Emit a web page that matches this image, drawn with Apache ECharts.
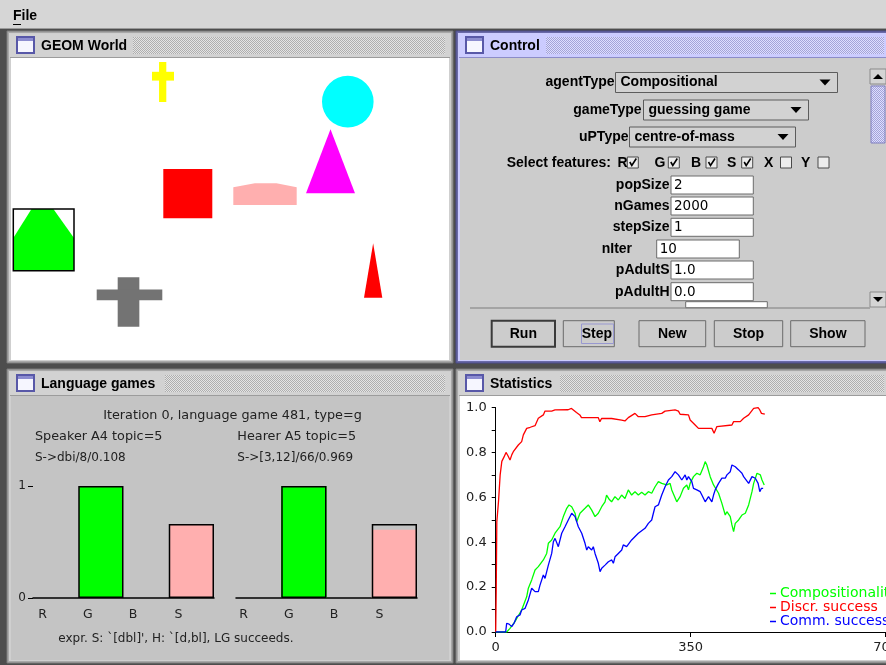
<!DOCTYPE html>
<html><head><meta charset="utf-8">
<script src="https://cdn.jsdelivr.net/npm/echarts@6/dist/echarts.min.js"></script>
<style>html,body{margin:0;padding:0;background:#4d4d4d;}#c{width:886px;height:665px;}</style>
</head><body><div id="c"></div>
<script>
// ================= DATA =================
// Statistics window
const statXTicks = [0, 350, 700];
const statYTicks = [0, 0.2, 0.4, 0.6, 0.8, 1.0];
const seriesNames = ['Compositionality', 'Discr. success', 'Comm. success'];
const compositionality = [[0,0],[19.7,0],[25.7,0.016],[34.6,0.046],[40,0.07],[46.6,0.098],[55.6,0.157],[58.6,0.195],[64.6,0.232],[70.6,0.276],[76.5,0.291],[85.5,0.321],[91.5,0.35],[94.5,0.395],[100.5,0.41],[106.5,0.44],[115.4,0.469],[121.4,0.514],[127.5,0.551],[131.6,0.566],[136.4,0.558],[142.4,0.529],[145.4,0.491],[151.3,0.529],[160.3,0.551],[166.2,0.566],[172.3,0.543],[178.3,0.514],[184.2,0.529],[190.3,0.558],[196.2,0.58],[199,0.61],[204,0.59],[208,0.58],[214,0.603],[220,0.588],[226,0.61],[232,0.595],[238,0.633],[244,0.61],[250,0.625],[256,0.61],[262,0.622],[268,0.61],[274,0.625],[280,0.618],[286,0.647],[292,0.67],[298,0.662],[307,0.655],[313,0.662],[316,0.633],[325,0.58],[331,0.603],[337,0.64],[343,0.655],[346,0.633],[349,0.662],[355,0.692],[361,0.707],[367,0.7],[373,0.736],[376,0.759],[379,0.744],[385,0.692],[391,0.655],[400,0.618],[406,0.573],[412,0.521],[415,0.536],[421,0.514],[424,0.477],[427,0.447],[430,0.484],[436,0.499],[442,0.521],[448,0.529],[454,0.566],[460,0.625],[463,0.662],[469,0.707],[475,0.7],[478,0.677],[482,0.655]];
const discrSuccess = [[0,0],[1,0.2],[2,0.49],[3,0.52],[5,0.58],[8,0.7],[11,0.76],[15,0.78],[18.5,0.8],[22,0.785],[25.7,0.766],[29,0.79],[31.6,0.803],[35,0.81],[40.6,0.833],[46.6,0.848],[49.6,0.878],[55.6,0.907],[62,0.912],[70.6,0.919],[76.5,0.952],[85.5,0.967],[88.5,0.984],[100.5,0.984],[106.5,0.989],[130,0.99],[136,0.996],[139,0.989],[145,0.978],[151,0.967],[154,0.955],[184,0.955],[187,0.937],[190,0.951],[208,0.951],[226,0.944],[232,0.94],[238,0.955],[250,0.974],[256,0.959],[268,0.959],[280,0.967],[298,0.974],[304,0.984],[322,0.989],[328,0.984],[331,0.97],[346,0.967],[349,0.944],[358,0.922],[364,0.907],[388,0.907],[392,0.885],[397,0.915],[424,0.922],[427,0.937],[439,0.937],[445,0.952],[454,0.967],[463,0.996],[471,0.999],[474,0.989],[477,0.974],[483,0.97]];
const commSuccess = [[0,0],[17.9,0],[19.7,0.039],[24,0.035],[28.7,0.024],[33,0.04],[37.7,0.068],[43.6,0.076],[46.6,0.098],[52.6,0.105],[58.6,0.143],[64.6,0.195],[70.6,0.18],[76.5,0.18],[79.5,0.209],[85.5,0.254],[88.5,0.239],[94.5,0.298],[100.5,0.35],[103.5,0.402],[106.5,0.417],[112.4,0.38],[118.5,0.44],[124.4,0.469],[130.3,0.499],[136.4,0.529],[139.3,0.536],[142.4,0.514],[148.3,0.469],[154.4,0.44],[160.3,0.395],[163.4,0.365],[166.2,0.38],[172.3,0.365],[175.2,0.38],[178.3,0.35],[184.2,0.306],[187.3,0.269],[190.3,0.284],[196.2,0.298],[202.2,0.313],[208.3,0.321],[211.2,0.306],[214.2,0.335],[220.1,0.35],[226.2,0.365],[229,0.388],[235,0.38],[244,0.41],[256,0.44],[268,0.462],[274,0.484],[280,0.499],[283,0.529],[286,0.558],[292,0.566],[298,0.61],[304,0.647],[310,0.677],[316,0.692],[322,0.714],[325,0.722],[328,0.7],[334,0.677],[340,0.7],[343,0.677],[346,0.692],[352,0.67],[355,0.64],[361,0.633],[367,0.625],[370,0.61],[376,0.58],[379,0.588],[382,0.603],[385,0.595],[388,0.58],[391,0.61],[394,0.633],[400,0.662],[406,0.685],[412,0.685],[415,0.7],[421,0.714],[424,0.744],[430,0.736],[436,0.722],[442,0.707],[445,0.692],[454,0.662],[460,0.692],[466,0.685],[469,0.692],[471,0.662],[474,0.625],[477,0.64],[480,0.64]];

// Language games window
const featureCats = ['R', 'G', 'B', 'S'];
const speakerValues = [0, 1, 0, 0.66];
const hearerPrototype = [0, 1, 0, 0.66];
const hearerObserved = [0, 1, 0, 0.61];
const barYTicks = [0, 1];
const gameHeader = 'Iteration 0, language game 481, type=g';
const speakerInfo = ['Speaker A4 topic=5', 'S->dbi/8/0.108'];
const hearerInfo = ['Hearer A5 topic=5', 'S->[3,12]/66/0.969'];
const gameResult = "expr. S: `[dbl]', H: `[d,bl], LG succeeds.";

// GEOM World objects (world units)
const worldShapes = ['cross', 'circle', 'triangle', 'square', 'arch', 'house', 'cross', 'triangle'];
const worldColors = ['#ffff00', '#00ffff', '#ff00ff', '#ff0000', '#ffafaf', '#00ff00', '#737373', '#ff0000'];
const worldX = [140, 310, 294, 151.3, 221.3, 1.3, 84.7, 352];
const worldY = [3, 17, 70.3, 110, 124.3, 150, 218.3, 184.3];
const worldW = [22, 51.6, 49, 49, 63.4, 60.7, 65.6, 18.3];
const worldH = [40, 51.3, 64, 49.3, 21.7, 61.7, 49.4, 54.4];
const topicIndex = 5;

// Control window
const paramLabels = ['popSize', 'nGames', 'stepSize', 'nIter', 'pAdultS', 'pAdultH'];
const paramValues = ['2', '2000', '1', '10', '1.0', '0.0'];
const featureFlags = [['R', true], ['G', true], ['B', true], ['S', true], ['X', false], ['Y', false]];
const buttonLabels = ['Run', 'Step', 'New', 'Stop', 'Show'];

// ================= BUILD =================
const chart = echarts.init(document.getElementById('c'), null, {renderer: 'canvas'});
const BOLD = '"Liberation Sans", Arial, sans-serif';
const REG = '"DejaVu Sans", sans-serif';
const LBL = 'bold 14px ' + BOLD;

function pattern(a, b) {
  const c = document.createElement('canvas'); c.width = 2; c.height = 2;
  const g = c.getContext('2d');
  g.fillStyle = a; g.fillRect(0, 0, 2, 2);
  g.fillStyle = b; g.fillRect(0, 0, 1, 1); g.fillRect(1, 1, 1, 1);
  return {image: c, repeat: 'repeat'};
}
const grayTex = pattern('#e4e4e4', '#aeaeae');
const blueTex = pattern('#dedeff', '#a4a4d8');

const G = [];
function rect(x, y, w, h, fill, stroke, lw, z) {
  G.push({type: 'rect', silent: true, z: z === undefined ? -10 : z, shape: {x: x, y: y, width: w, height: h},
    style: {fill: fill || 'none', stroke: stroke || null, lineWidth: lw || 1}});
}
function line(x1, y1, x2, y2, stroke, lw, z) {
  G.push({type: 'line', silent: true, z: z === undefined ? -9 : z, shape: {x1: x1, y1: y1, x2: x2, y2: y2},
    style: {stroke: stroke, lineWidth: lw || 1}});
}
function poly(points, fill, z) {
  G.push({type: 'polygon', silent: true, z: z === undefined ? -8 : z, shape: {points: points}, style: {fill: fill}});
}
function polyline(points, stroke, lw) {
  G.push({type: 'polyline', silent: true, z: -7, shape: {points: points}, style: {stroke: stroke, lineWidth: lw, fill: null}});
}
function text(x, y, t, font, align, color) {
  G.push({type: 'text', silent: true, z: 50, x: x, y: y,
    style: {text: t, font: font, fill: color || '#000', align: align || 'left', verticalAlign: 'middle',
      textAlign: align || 'left', textVerticalAlign: 'middle'}});
}
function icon(x, y) {
  rect(x, y, 17, 16, '#f6f6ff', '#5858a8', 2, -6);
  rect(x, y, 17, 4, '#8c8cd0', null, 1, -5);
  rect(x, y, 17, 16, 'none', '#5858a8', 2, -4);
}

// Menu bar
rect(0, 0, 886, 28, '#d6d6d6');
line(0, 28.5, 886, 28.5, '#9a9a9a', 1);
text(13, 16, 'File', 'bold 14px ' + BOLD);
line(13, 24.5, 21, 24.5, '#000', 1);

// Frames
function frame(x, y, w, h, title, active, contentFill, texX) {
  rect(x, y, w, h, active ? '#6a6aa8' : '#a8a8a8', active ? '#4a4a88' : '#7a7a7a', 1);
  rect(x + 2, y + 2, w - 4, h - 4, active ? '#ccccff' : '#cfcfcf', null);
  rect(x + 3, y + 3, w - 6, 23, active ? '#ccccff' : '#d2d2d2', null);
  rect(texX, y + 6, x + w - 8 - texX, 17, active ? blueTex : grayTex, null, 1, -9);
  line(x + 3, y + 26.5, x + w - 3, y + 26.5, active ? '#8c8cc8' : '#9c9c9c', 1);
  rect(x + 4, y + 27, w - 8, h - 30, contentFill, null, 1, -9);
  icon(x + 10, y + 6);
  text(x + 34, y + 15, title, 'bold 14px ' + BOLD);
}
frame(7, 31, 446, 332, 'GEOM World', false, '#ffffff', 133);
frame(456, 31, 436, 332, 'Control', true, '#cccccc', 546);
frame(7, 369, 446, 294, 'Language games', false, '#c4c4c4', 165);
frame(456, 369, 436, 294, 'Statistics', false, '#ffffff', 560);

// Control internals
rect(470, 69, 400, 239, '#cccccc', '#7c7c7c', 1);
rect(870, 69, 16, 239, '#cccccc', '#7c7c7c', 1);
rect(870, 69, 16, 15, '#d4d4d4', '#8a8a8a', 1, -9);
poly([[873, 79], [883, 79], [878, 74]], '#000');
rect(871, 86, 14, 57, blueTex, '#8080c0', 1, -8);
rect(870, 292, 16, 15, '#d4d4d4', '#8a8a8a', 1, -9);
poly([[873, 297], [883, 297], [878, 302]], '#000');

function combo(labelRight, cy, x0, x1, label, value) {
  text(labelRight, cy, label, LBL, 'right');
  rect(x0, cy - 10, x1 - x0, 20, '#d2d2d2', '#5c5c5c', 1, -8);
  line(x0 + 1.5, cy - 8.5, x1 - 2, cy - 8.5, '#f2f2f2', 1);
  text(x0 + 5, cy, value, LBL);
  poly([[x1 - 18, cy - 3], [x1 - 7, cy - 3], [x1 - 12.5, cy + 3]], '#000', -6);
}
combo(614.5, 82.5, 615.5, 837.5, 'agentType', 'Compositional');
combo(641.5, 110, 643.5, 808.5, 'gameType', 'guessing game');
combo(628.5, 137, 629.5, 795.5, 'uPType', 'centre-of-mass');

text(506.7, 162.7, 'Select features:', LBL);
const flagLetterX = [617.5, 654.5, 691, 727, 764, 801];
const flagBoxX = [627.3, 668.3, 706, 741.7, 780.5, 818];
featureFlags.forEach(function (f, i) {
  text(flagLetterX[i], 162.7, f[0], LBL);
  rect(flagBoxX[i], 157, 11, 11, '#ececec', '#4a4a4a', 1, -8);
  if (f[1]) polyline([[flagBoxX[i] + 2.5, 162], [flagBoxX[i] + 4.5, 165.5], [flagBoxX[i] + 9, 158.5]], '#000', 1.6);
});

const fieldY = [185, 206, 227.3, 249, 270, 291.7];
paramLabels.forEach(function (lab, i) {
  const cy = fieldY[i];
  let fx0 = 671, fx1 = 753.3;
  if (lab === 'nIter') { fx0 = 656.7; fx1 = 739.3; text(601.7, cy, lab, LBL); }
  else text(669.5, cy, lab, LBL, 'right');
  rect(fx0, cy - 9, fx1 - fx0, 18, '#ffffff', '#6c6c6c', 1, -8);
  text(fx0 + 3, cy + 0.5, paramValues[i], '13.5px ' + REG);
});
rect(685.7, 301.7, 81.6, 6, '#ffffff', '#6c6c6c', 1, -8);
line(470, 308, 870, 308, '#7c7c7c', 1);

const btnX = [[491.7, 555], [563.3, 614.3], [639, 705.7], [714.3, 782.7], [790.7, 865]];
buttonLabels.forEach(function (b, i) {
  const x0 = btnX[i][0], x1 = btnX[i][1];
  rect(x0, 320.7, x1 - x0, 26, '#cccccc', i === 0 ? '#3a3a3a' : '#6a6a6a', i === 0 ? 2 : 1, -8);
  line(x0 + 1.5, 322.5, x1 - 1.5, 322.5, '#f4f4f4', 1);
  line(x0 + 1.5, 322.5, x0 + 1.5, 345, '#f4f4f4', 1);
  text((x0 + x1) / 2 + (i === 1 ? 8 : 0), 334, b, LBL, 'center');
});
rect(581.5, 324, 32, 19.5, 'none', '#9898d0', 1, -6);

// Language games texts
text(232.5, 415.7, gameHeader, '12.8px ' + REG, 'center', '#222');
text(35, 436.7, speakerInfo[0], '12.8px ' + REG, 'left', '#222');
text(237.3, 436.7, hearerInfo[0], '12.8px ' + REG, 'left', '#222');
text(35, 458.3, speakerInfo[1], '12px ' + REG, 'left', '#222');
text(237.3, 458.3, hearerInfo[1], '12px ' + REG, 'left', '#222');
text(58.3, 639.3, gameResult, '12px ' + REG, 'left', '#222');

// ================= OPTION =================
const featureColor = {R: '#ff0000', G: '#00ff00', B: '#0000ff', S: '#ffafaf'};
const lineColors = ['#00ff00', '#ff0000', '#0000ff'];
const worldData = worldX.map(function (x, i) { return [x, worldY[i], worldW[i], worldH[i]]; });

function renderWorld(params, api) {
  const i = params.dataIndex;
  const p0 = api.coord([api.value(0), api.value(1)]);
  const p1 = api.coord([api.value(0) + api.value(2), api.value(1) + api.value(3)]);
  const x = p0[0], y = p0[1], w = p1[0] - p0[0], h = p1[1] - p0[1];
  const st = {fill: worldColors[i]};
  const kind = worldShapes[i];
  if (kind === 'circle') return {type: 'circle', shape: {cx: x + w / 2, cy: y + h / 2, r: w / 2}, style: st};
  if (kind === 'square') return {type: 'rect', shape: {x: x, y: y, width: w, height: h}, style: st};
  if (kind === 'triangle') return {type: 'polygon', shape: {points: [[x + w / 2, y], [x + w, y + h], [x, y + h]]}, style: st};
  if (kind === 'arch') return {type: 'polygon', shape: {points: [[x, y + h * 0.18], [x + w * 0.34, y], [x + w * 0.68, y], [x + w, y + h * 0.18], [x + w, y + h], [x, y + h]]}, style: st};
  if (kind === 'cross') return {type: 'group', children: [
    {type: 'rect', shape: {x: x + w * 0.32, y: y, width: w * 0.33, height: h}, style: st},
    {type: 'rect', shape: {x: x, y: y + h * 0.245, width: w, height: h * 0.22}, style: st}]};
  if (kind === 'house') {
    const children = [{type: 'polygon', shape: {points: [[x + w * 0.3, y], [x + w * 0.66, y], [x + w, y + h * 0.47], [x + w, y + h], [x, y + h], [x, y + h * 0.47]]}, style: st}];
    if (i === topicIndex) children.push({type: 'rect', shape: {x: x, y: y, width: w, height: h}, style: {fill: 'none', stroke: '#000', lineWidth: 1.5}});
    return {type: 'group', children: children};
  }
}

const gridBase = {outerBoundsMode: 'none', containLabel: false};
const catAxis = function (gi, pad) {
  return {type: 'category', gridIndex: gi, data: featureCats, boundaryGap: true,
    axisLine: {show: true, lineStyle: {color: '#000', width: 1.5}}, axisTick: {show: false},
    axisLabel: {show: true, color: '#222', fontSize: 12.5, fontFamily: REG, margin: 10, padding: [0, pad, 0, 0]},
    splitLine: {show: false}};
};

const option = {
  backgroundColor: '#4d4d4d',
  animation: false,
  graphic: {elements: G},
  grid: [
    Object.assign({left: 12, top: 59, width: 438, height: 302}, gridBase),
    Object.assign({left: 33, top: 486, width: 181, height: 112}, gridBase),
    Object.assign({left: 236, top: 486, width: 181, height: 112}, gridBase),
    Object.assign({left: 495.7, top: 407.5, width: 390, height: 224.5}, gridBase)
  ],
  xAxis: [
    {type: 'value', gridIndex: 0, min: 0, max: 438, show: false},
    catAxis(1, 26),
    catAxis(2, 30),
    {type: 'value', gridIndex: 3, min: statXTicks[0], max: statXTicks[2], interval: statXTicks[1],
      axisLine: {show: true, onZero: false, lineStyle: {color: '#000', width: 1}},
      axisTick: {show: true, length: 5, lineStyle: {color: '#000'}},
      axisLabel: {color: '#222', fontSize: 13, fontFamily: REG, margin: 9, showMaxLabel: true},
      splitLine: {show: false}}
  ],
  yAxis: [
    {type: 'value', gridIndex: 0, min: 0, max: 302, inverse: true, show: false},
    {type: 'value', gridIndex: 1, min: 0, max: 1, interval: 1,
      axisLine: {show: false}, axisTick: {show: true, length: 5, lineStyle: {color: '#000', width: 1}},
      axisLabel: {color: '#222', fontSize: 12, fontFamily: REG, margin: 7,
        formatter: function (v) { return barYTicks.indexOf(v) >= 0 ? String(v) : ''; }},
      splitLine: {show: false}},
    {type: 'value', gridIndex: 2, min: 0, max: 1, show: false},
    {type: 'value', gridIndex: 3, min: statYTicks[0], max: statYTicks[5], interval: 0.2,
      axisLine: {show: true, lineStyle: {color: '#000', width: 1}},
      axisTick: {show: true, length: 4, lineStyle: {color: '#000'}},
      minorTick: {show: true, splitNumber: 2, length: 4, lineStyle: {color: '#000'}},
      axisLabel: {color: '#222', fontSize: 13, fontFamily: REG, margin: 9,
        formatter: function (v) { return v.toFixed(1); }},
      splitLine: {show: false}, minorSplitLine: {show: false}}
  ],
  legend: {
    show: true, orient: 'vertical', left: 770, top: 586.5, padding: 0, itemGap: 0,
    icon: 'rect', itemWidth: 6, itemHeight: 1.5, selectedMode: false,
    textStyle: {fontSize: 14, fontFamily: REG, lineHeight: 11.7, padding: [0, 0, 0, -1]},
    data: seriesNames.map(function (n, i) { return {name: n, textStyle: {color: lineColors[i]}}; })
  },
  series: [
    {type: 'custom', xAxisIndex: 0, yAxisIndex: 0, renderItem: renderWorld, data: worldData, silent: true},
    {type: 'bar', xAxisIndex: 1, yAxisIndex: 1, barWidth: '100%', silent: true,
      data: speakerValues.map(function (v, i) { return {value: v, itemStyle: {color: featureColor[featureCats[i]], borderColor: '#000', borderWidth: v > 0 ? 1.5 : 0}}; })},
    {type: 'bar', xAxisIndex: 2, yAxisIndex: 2, barWidth: '100%', barGap: '-100%', silent: true,
      data: hearerObserved.map(function (v, i) { return {value: v, itemStyle: {color: featureColor[featureCats[i]], borderWidth: 0}}; })},
    {type: 'bar', xAxisIndex: 2, yAxisIndex: 2, barWidth: '100%', barGap: '-100%', silent: true,
      data: hearerPrototype.map(function (v) { return {value: v, itemStyle: {color: 'rgba(0,0,0,0)', borderColor: '#000', borderWidth: v > 0 ? 1.5 : 0}}; })},
    {name: seriesNames[0], type: 'line', xAxisIndex: 3, yAxisIndex: 3, data: compositionality, showSymbol: false, symbol: 'none',
      lineStyle: {color: lineColors[0], width: 1.3}, itemStyle: {color: lineColors[0]}, silent: true},
    {name: seriesNames[1], type: 'line', xAxisIndex: 3, yAxisIndex: 3, data: discrSuccess, showSymbol: false, symbol: 'none',
      lineStyle: {color: lineColors[1], width: 1.3}, itemStyle: {color: lineColors[1]}, silent: true},
    {name: seriesNames[2], type: 'line', xAxisIndex: 3, yAxisIndex: 3, data: commSuccess, showSymbol: false, symbol: 'none',
      lineStyle: {color: lineColors[2], width: 1.3}, itemStyle: {color: lineColors[2]}, silent: true}
  ]
};
chart.setOption(option);
</script></body></html>
